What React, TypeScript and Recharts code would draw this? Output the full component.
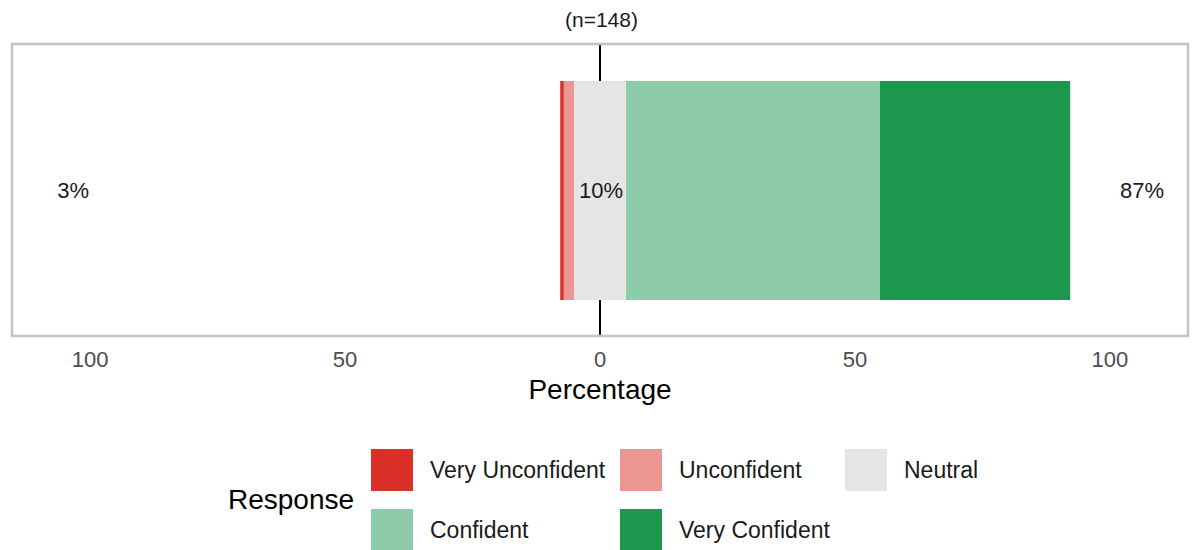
import React from "react";
import {
  BarChart,
  Bar,
  XAxis,
  YAxis,
  ReferenceLine,
  ReferenceArea,
  ReferenceDot,
} from "recharts";

// Likert responses, in scale order
const responses = ["Very Unconfident", "Unconfident", "Neutral", "Confident", "Very Confident"];
const percentages = [0.7, 2.0, 10.2, 49.8, 37.3];
const colors = ["#DA3028", "#EB9691", "#E5E5E5", "#8ECBA8", "#1C984E"];
const sampleSize = 148;
const xTicks = [-100, -50, 0, 50, 100];

const FONT = '"Liberation Sans", Arial, Helvetica, sans-serif';
const DOMAIN: [number, number] = [-115.3, 115.3];

// diverging row: neutral split around zero, negatives stacked outward from the middle
const row = {
  name: "all",
  neutralLow: -percentages[2] / 2,
  unconfident: -percentages[1],
  veryUnconfident: -percentages[0],
  neutralHigh: percentages[2] / 2,
  confident: percentages[3],
  veryConfident: percentages[4],
};
const data = [row];

const series = [
  { key: "neutralLow", color: colors[2] },
  { key: "unconfident", color: colors[1] },
  { key: "veryUnconfident", color: colors[0] },
  { key: "neutralHigh", color: colors[2] },
  { key: "confident", color: colors[3] },
  { key: "veryConfident", color: colors[4] },
];

const lowPct = Math.round(percentages[0] + percentages[1]);
const midPct = Math.round(percentages[2]);
const highPct = Math.round(percentages[3] + percentages[4]);

const legendSlots = [
  { x: 371, y: 449 },
  { x: 620, y: 449 },
  { x: 845, y: 449 },
  { x: 371, y: 509 },
  { x: 620, y: 509 },
];

function LikertLegend() {
  return (
    <div style={{ position: "absolute", left: 0, top: 0, width: 1193, height: 550, fontFamily: FONT }}>
      <div
        style={{
          position: "absolute",
          left: 228,
          top: 500 - 17,
          fontSize: 28,
          color: "#000",
          lineHeight: "34px",
        }}
      >
        Response
      </div>
      {responses.map((r, i) => (
        <div key={r}>
          <div
            style={{
              position: "absolute",
              left: legendSlots[i].x,
              top: legendSlots[i].y,
              width: 42,
              height: 42,
              background: colors[i],
            }}
          />
          <div
            style={{
              position: "absolute",
              left: legendSlots[i].x + 59,
              top: legendSlots[i].y + 21 - 14,
              fontSize: 23,
              lineHeight: "28px",
              color: "#1a1a1a",
              whiteSpace: "nowrap",
            }}
          >
            {r}
          </div>
        </div>
      ))}
    </div>
  );
}

export default function App() {
  const pctLabel = (text: string) => ({
    value: text,
    fontSize: 22,
    fill: "#1a1a1a",
    fontFamily: FONT,
    position: "center" as const,
  });
  return (
    <div style={{ position: "absolute", left: 0, top: 0, width: 1193, height: 550, background: "#fff", overflow: "hidden" }}>
      <div
        style={{
          position: "absolute",
          left: 0,
          top: 7,
          width: 1203,
          textAlign: "center",
          fontFamily: FONT,
          fontSize: 21,
          lineHeight: "26px",
          color: "#1a1a1a",
        }}
      >
        (n={sampleSize})
      </div>
      <div style={{ position: "absolute", left: 0, top: 0 }}>
        <BarChart
          width={1193}
          height={550}
          data={data}
          layout="vertical"
          stackOffset="sign"
          margin={{ top: 44, right: 5, left: 12, bottom: 144 }}
        >
          <XAxis
            type="number"
            domain={DOMAIN}
            ticks={xTicks}
            tickFormatter={(v: number) => String(Math.abs(v))}
            axisLine={false}
            tickLine={false}
            tickMargin={9}
            height={70}
            allowDataOverflow
            tick={{ fontSize: 22, fill: "#4d4d4d", fontFamily: FONT }}
            label={{
              value: "Percentage",
              position: "insideBottom",
              offset: 7,
              fontSize: 28,
              fill: "#000",
              fontFamily: FONT,
            }}
          />
          <YAxis type="category" dataKey="name" hide />
          <ReferenceLine x={0} stroke="#000" strokeWidth={2} zIndex={0} />
          {series.map((s) => (
            <Bar
              key={s.key}
              dataKey={s.key}
              stackId="likert"
              fill={s.color}
              barSize={219}
              isAnimationActive={false}
              legendType="none"
            />
          ))}
          <ReferenceArea
            x1={DOMAIN[0]}
            x2={DOMAIN[1]}
            fill="none"
            stroke="#c2c2c2"
            strokeWidth={2.5}
            ifOverflow="visible"
          />
          <ReferenceDot x={-103.3} y="all" r={0} ifOverflow="visible" label={pctLabel(`${lowPct}%`)} />
          <ReferenceDot x={0.2} y="all" r={0} ifOverflow="visible" label={pctLabel(`${midPct}%`)} />
          <ReferenceDot x={106.3} y="all" r={0} ifOverflow="visible" label={pctLabel(`${highPct}%`)} />
        </BarChart>
      </div>
      <LikertLegend />
    </div>
  );
}
